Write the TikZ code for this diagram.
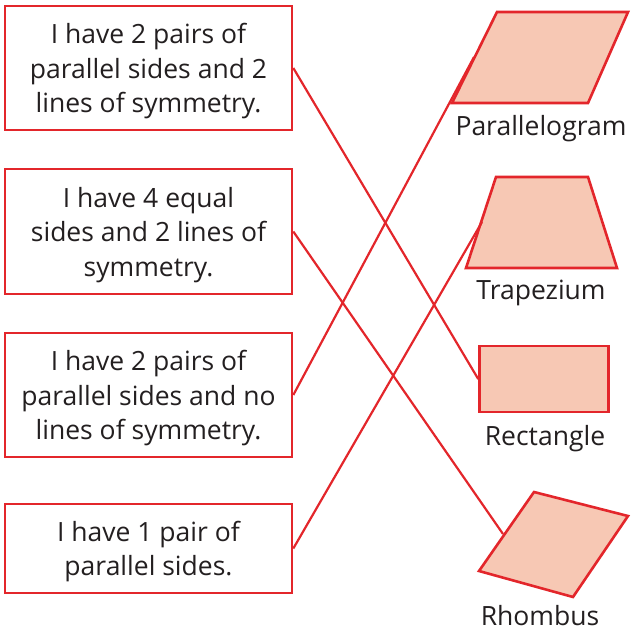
\documentclass[tikz,border=0pt]{standalone}
\usepackage{fontspec}
\setmainfont{Open Sans}
\definecolor{lred}{HTML}{E3262B}
\definecolor{peach}{HTML}{F7C8B4}
\definecolor{txt}{HTML}{231F20}
\begin{document}
\begin{tikzpicture}[x=1pt,y=-1pt,
  box/.style={draw=lred,line width=2.6pt,minimum width=287pt,align=center,
    font=\fontsize{26.5}{34.5}\selectfont,text=txt,inner sep=0pt,text depth=0pt},
  shp/.style={draw=lred,fill=peach,line width=2.6pt,line join=miter},
  lbl/.style={font=\fontsize{26.5}{28}\selectfont,text=txt},
  con/.style={draw=lred,line width=2.2pt}]
\useasboundingbox (0,0) rectangle (630,631);
% boxes
\node[box,minimum height=124pt] (b1) at (148.5,68) {I have 2 pairs of\\parallel sides and 2\\lines of symmetry.};
\node[box,minimum height=125pt] (b2) at (148.5,231.5) {I have 4 equal\\sides and 2 lines of\\symmetry.};
\node[box,minimum height=124pt] (b3) at (148.5,395) {I have 2 pairs of\\parallel sides and no\\lines of symmetry.};
\node[box,minimum height=89pt] (b4) at (148.5,548.5) {I have 1 pair of\\parallel sides.};
% shapes
\path[shp] (452,103) -- (497,12) -- (628,12) -- (588,103) -- cycle;
\coordinate (pg) at (474,57);
\node[lbl] (lpg) at (541,129) {Parallelogram};
\path[shp] (466,268) -- (496,177) -- (588,177) -- (617,268) -- cycle;
\coordinate (tz) at (482,222);
\node[lbl] (ltz) at (541,293) {Trapezium};
\node[shp,minimum width=129pt,minimum height=66pt,inner sep=0pt] (rect) at (544,379) {};
\node[lbl] (lrc) at (545,439) {Rectangle};
\path[shp] (534,492) -- (628,516) -- (573,597) -- (479,571) -- cycle;
\coordinate (rh) at (503,534);
\node[lbl] (lrh) at (540,616) {Rhombus};
% connectors
\draw[con] (b1.east) -- (rect.west);
\draw[con] (b2.east) -- (rh);
\draw[con] (b3.east) -- (pg);
\draw[con] (b4.east) -- (tz);
\end{tikzpicture}
\end{document}
